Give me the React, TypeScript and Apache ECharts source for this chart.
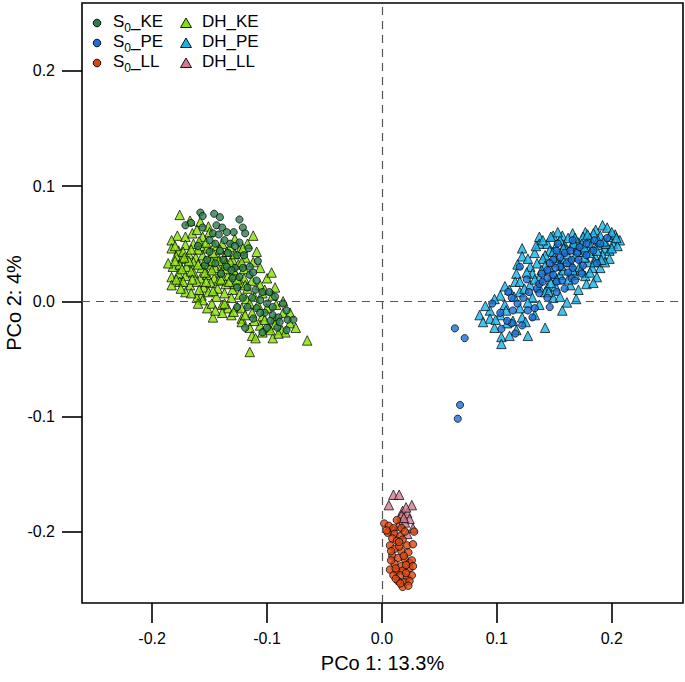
import React, { useEffect, useRef } from "react";
import * as echarts from "echarts";

type P = [number, number];

const xTicks = [-0.2, -0.1, 0.0, 0.1, 0.2];
const yTicks = [-0.2, -0.1, 0.0, 0.1, 0.2];
const xTitle = "PCo 1: 13.3%";
const yTitle = "PCo 2: 4%";

const S0_KE: P[] = [
  [-0.158,0.077],[-0.156,0.074],[-0.146,0.076],[-0.141,0.073],[-0.124,0.071],[-0.171,0.066],[-0.166,0.068],
  [-0.144,0.066],[-0.139,0.064],[-0.121,0.064],[-0.119,0.059],[-0.156,0.064],[-0.147,0.059],[-0.129,0.060],
  [-0.142,0.058],[-0.150,0.053],[-0.145,0.050],[-0.137,0.053],[-0.132,0.050],[-0.124,0.051],[-0.116,0.046],
  [-0.150,0.043],[-0.141,0.044],[-0.134,0.042],[-0.126,0.040],[-0.154,0.031],[-0.145,0.033],[-0.135,0.030],
  [-0.128,0.029],[-0.121,0.029],[-0.115,0.030],[-0.124,0.021],[-0.115,0.023],[-0.109,0.018],[-0.126,0.012],
  [-0.117,0.012],[-0.110,0.010],[-0.104,0.008],[-0.121,0.003],[-0.113,0.003],[-0.106,0.001],[-0.093,0.004],
  [-0.100,-0.002],[-0.126,-0.005],[-0.117,-0.005],[-0.109,-0.006],[-0.095,-0.005],[-0.102,-0.010],[-0.095,-0.012],
  [-0.083,-0.008],[-0.082,-0.016],[-0.077,-0.016],[-0.090,-0.014],[-0.119,-0.023],[-0.104,-0.027],[-0.100,-0.023],
  [-0.091,-0.023],[-0.083,-0.025],[-0.089,-0.018],[-0.097,-0.017],[-0.160,0.048],[-0.152,0.036],[-0.138,0.036],
  [-0.130,0.020],[-0.140,0.024],
  [-0.135,0.060],[-0.128,0.048],[-0.120,0.040],[-0.112,0.025],[-0.108,0.035],[-0.131,0.027],[-0.098,0.008],
  [-0.086,-0.002],[-0.112,-0.015],[-0.106,-0.010]
];

const DH_KE: P[] = [
  [-0.176,0.075],[-0.167,0.070],[-0.158,0.069],[-0.151,0.065],
  [-0.178,0.057],[-0.171,0.056],[-0.165,0.059],[-0.161,0.062],[-0.156,0.056],[-0.150,0.060],[-0.128,0.054],[-0.112,0.057],[-0.183,0.053],
  [-0.183,0.046],[-0.177,0.044],[-0.171,0.049],[-0.164,0.050],[-0.158,0.048],[-0.152,0.046],[-0.146,0.048],[-0.139,0.050],[-0.132,0.047],[-0.117,0.050],[-0.124,0.044],
  [-0.179,0.039],[-0.174,0.037],[-0.168,0.041],[-0.162,0.038],[-0.156,0.040],[-0.150,0.037],[-0.143,0.039],[-0.137,0.037],[-0.130,0.036],[-0.109,0.043],[-0.119,0.038],
  [-0.182,0.030],[-0.176,0.032],[-0.170,0.030],[-0.164,0.034],[-0.157,0.029],[-0.151,0.032],[-0.145,0.029],[-0.139,0.031],[-0.132,0.034],[-0.125,0.032],[-0.112,0.034],[-0.106,0.029],
  [-0.183,0.021],[-0.177,0.024],[-0.171,0.022],[-0.164,0.025],[-0.158,0.020],[-0.152,0.023],[-0.146,0.020],[-0.140,0.025],[-0.134,0.022],[-0.127,0.023],[-0.120,0.020],[-0.100,0.020],[-0.096,0.025],
  [-0.176,0.017],[-0.183,0.014],[-0.167,0.014],[-0.161,0.017],[-0.155,0.012],[-0.149,0.016],[-0.143,0.011],[-0.136,0.015],[-0.130,0.010],[-0.123,0.016],[-0.117,0.011],[-0.106,0.014],[-0.093,0.012],[-0.102,0.010],
  [-0.171,0.008],[-0.157,0.005],[-0.161,0.003],[-0.151,0.008],[-0.144,0.004],[-0.137,0.007],[-0.131,0.003],[-0.124,0.006],[-0.111,0.004],[-0.104,0.007],[-0.095,0.005],[-0.118,0.002],
  [-0.156,0.001],[-0.152,-0.006],[-0.148,-0.002],[-0.139,-0.003],[-0.134,-0.006],[-0.126,-0.005],[-0.122,-0.006],[-0.115,-0.002],[-0.100,-0.006],[-0.108,-0.003],[-0.092,-0.003],[-0.086,0.000],
  [-0.147,-0.014],[-0.139,-0.010],[-0.131,-0.012],[-0.122,-0.015],[-0.113,-0.010],[-0.104,-0.013],[-0.093,-0.015],[-0.086,-0.010],[-0.080,-0.010],
  [-0.122,-0.018],[-0.106,-0.021],[-0.099,-0.023],[-0.087,-0.025],[-0.115,-0.023],[-0.093,-0.020],[-0.080,-0.019],[-0.075,-0.023],
  [-0.113,-0.030],[-0.110,-0.032],[-0.095,-0.032],[-0.084,-0.027],[-0.097,-0.025],[-0.065,-0.034],[-0.104,-0.027],
  [-0.115,-0.044],
  [-0.186,0.033],[-0.174,0.028],[-0.168,0.035],[-0.160,0.045],[-0.154,0.025],[-0.148,0.035],[-0.142,0.018],
  [-0.135,0.028],[-0.128,0.015],[-0.120,0.028],[-0.113,0.018],
  [-0.180,0.048],[-0.173,0.043],[-0.166,0.045],[-0.159,0.052],[-0.153,0.051],[-0.147,0.042],[-0.141,0.045],[-0.135,0.043],[-0.128,0.041],[-0.121,0.046],
  [-0.180,0.035],[-0.172,0.038],[-0.166,0.026],[-0.160,0.032],[-0.154,0.035],[-0.148,0.027],[-0.142,0.035],[-0.136,0.033],[-0.129,0.027],[-0.122,0.034],
  [-0.179,0.019],[-0.173,0.017],[-0.165,0.019],[-0.159,0.010],[-0.153,0.017],[-0.147,0.009],[-0.140,0.019],[-0.133,0.017],[-0.126,0.019],[-0.119,0.014],
  [-0.175,0.011],[-0.166,0.007],[-0.160,-0.002],[-0.145,-0.008],[-0.137,-0.002],[-0.129,-0.009],[-0.119,-0.012],[-0.111,-0.017],[-0.102,-0.016],[-0.090,-0.028]
];

const S0_PE: P[] = [
  [0.0635,-0.0235],[0.072,-0.032],[0.068,-0.090],[0.066,-0.102],
  [0.096,-0.002],[0.120,0.030],[0.126,0.019],[0.110,0.008],[0.113,0.003],[0.114,-0.008],[0.118,-0.002],[0.123,0.003],
  [0.127,-0.008],[0.131,-0.014],[0.133,-0.006],[0.128,0.008],[0.135,0.011],[0.137,0.015],[0.140,0.017],[0.137,0.007],
  [0.146,-0.005],[0.144,0.003],[0.152,0.008],[0.113,-0.019],[0.103,-0.010],[0.109,-0.017],[0.122,-0.021],[0.144,0.020],
  [0.149,0.023],[0.152,0.017],[0.157,0.018],[0.159,0.011],[0.155,0.030],[0.161,0.033],[0.165,0.036],[0.166,0.029],
  [0.171,0.036],[0.175,0.031],[0.174,0.024],[0.165,0.020],[0.159,0.042],[0.164,0.044],[0.170,0.042],[0.155,0.038],
  [0.149,0.036],[0.172,0.047],[0.178,0.040],[0.162,0.025],[0.168,0.018],[0.151,0.029],[0.144,0.027],[0.146,0.033],
  [0.178,0.050],[0.184,0.044],[0.185,0.053],[0.190,0.050],[0.196,0.055],[0.187,0.033],[0.152,0.044],[0.139,0.024],
  [0.153,0.050],[0.166,0.053],[0.104,-0.024],[0.116,-0.028]
];

const DH_PE: P[] = [
  [0.192,0.066],[0.196,0.064],[0.186,0.062],[0.177,0.060],[0.166,0.059],[0.157,0.057],[0.149,0.057],[0.137,0.056],[0.175,0.056],[0.184,0.059],[0.190,0.057],[0.198,0.056],[0.203,0.058],[0.207,0.053],[0.181,0.055],[0.171,0.051],
  [0.137,0.050],[0.144,0.050],[0.151,0.047],[0.159,0.049],[0.165,0.048],[0.174,0.050],[0.181,0.047],[0.188,0.049],[0.194,0.046],[0.201,0.050],[0.205,0.048],[0.155,0.053],[0.198,0.044],[0.146,0.044],[0.162,0.055],
  [0.122,0.046],[0.122,0.039],[0.133,0.042],[0.142,0.040],[0.149,0.043],[0.157,0.037],[0.168,0.039],[0.175,0.043],[0.181,0.042],[0.186,0.038],[0.192,0.040],[0.198,0.037],[0.140,0.037],[0.161,0.041],
  [0.135,0.033],[0.142,0.031],[0.153,0.034],[0.164,0.034],[0.172,0.030],[0.179,0.034],[0.190,0.029],[0.194,0.034],[0.183,0.029],[0.129,0.030],[0.146,0.029],
  [0.117,0.024],[0.131,0.024],[0.137,0.020],[0.148,0.022],[0.155,0.023],[0.168,0.023],[0.177,0.022],[0.187,0.021],[0.181,0.025],[0.126,0.025],
  [0.116,0.017],[0.120,0.017],[0.144,0.012],[0.151,0.013],[0.164,0.014],[0.178,0.015],[0.184,0.016],[0.129,0.014],[0.107,0.013],[0.111,0.010],[0.137,0.012],[0.171,0.010],
  [0.149,0.003],[0.169,0.002],[0.103,0.005],[0.120,0.008],[0.131,0.003],[0.155,0.004],[0.098,0.002],[0.142,0.008],
  [0.161,-0.001],[0.157,-0.008],[0.094,-0.008],[0.107,-0.003],[0.120,-0.006],[0.137,-0.003],[0.127,-0.001],[0.090,-0.004],
  [0.094,-0.015],[0.114,-0.017],[0.122,-0.014],[0.103,-0.012],[0.133,-0.012],[0.085,-0.012],
  [0.088,-0.018],[0.098,-0.023],[0.109,-0.019],[0.142,-0.023],[0.117,-0.025],
  [0.104,-0.031],[0.104,-0.037],[0.127,-0.030],[0.111,-0.030],
  [0.160,0.045],[0.170,0.045],[0.180,0.051],[0.188,0.053],[0.176,0.038],[0.166,0.027],[0.158,0.027],[0.152,0.019],[0.195,0.050],[0.200,0.060],
  [0.140,0.053],[0.147,0.056],[0.153,0.060],[0.168,0.055],[0.179,0.058],[0.187,0.044],[0.193,0.052],[0.200,0.046],[0.204,0.055],[0.176,0.047],
  [0.167,0.050],[0.158,0.046],[0.150,0.038],[0.139,0.027],[0.133,0.019],[0.124,0.011],[0.115,0.004],[0.108,-0.008],[0.099,-0.016],[0.147,0.016],
  [0.156,0.031],[0.173,0.027],[0.185,0.034],[0.191,0.036],[0.162,0.019],[0.118,0.032],[0.127,0.037],[0.134,0.048],[0.145,0.008],[0.125,-0.018]
];

const S0_LL: P[] = [
  [0.002,-0.193],[0.006,-0.195],[0.010,-0.197],[0.017,-0.197],[0.005,-0.201],[0.011,-0.202],[0.016,-0.204],[0.009,-0.206],
  [0.013,-0.208],[0.018,-0.207],[0.022,-0.212],[0.027,-0.211],[0.007,-0.212],[0.011,-0.215],[0.017,-0.217],[0.023,-0.218],
  [0.009,-0.221],[0.014,-0.223],[0.020,-0.224],[0.024,-0.227],[0.011,-0.228],[0.017,-0.230],[0.007,-0.233],[0.013,-0.235],
  [0.018,-0.234],[0.024,-0.232],[0.010,-0.238],[0.016,-0.238],[0.022,-0.240],[0.026,-0.238],[0.014,-0.243],[0.020,-0.244],
  [0.024,-0.243],[0.018,-0.248],[0.023,-0.247],[0.013,-0.190],[0.020,-0.200],[0.015,-0.213],[0.021,-0.229],[0.012,-0.241],
  [0.026,-0.225],[0.008,-0.225],[0.028,-0.200],
  [0.004,-0.199],[0.015,-0.209],[0.008,-0.217],[0.019,-0.221],[0.012,-0.232],[0.021,-0.236],[0.016,-0.245],[0.027,-0.230]
];

const DH_LL: P[] = [
  [0.010,-0.168],[0.015,-0.168],[0.006,-0.177],[0.026,-0.177],[0.018,-0.182],[0.022,-0.184],[0.017,-0.186],[0.024,-0.189],
  [0.016,-0.192],[0.020,-0.192],[0.014,-0.195],[0.027,-0.197],[0.022,-0.202],[0.010,-0.199],[0.021,-0.179],[0.019,-0.188]
];

const COLORS = {
  s0ke: "#2D7D4F",
  dhke: "#84E000",
  s0pe: "#1C6ED6",
  dhpe: "#14B4EA",
  s0ll: "#D8460E",
  dhll: "#D27A8E",
};

const FONT = "'Liberation Sans', Arial, Helvetica, sans-serif";

export default function App() {
  const ref = useRef<HTMLDivElement>(null);
  useEffect(() => {
    if (!ref.current) return;
    const chart = echarts.init(ref.current, undefined, { renderer: "svg" });
    const markerStyle = (c: string) => ({ color: c, borderColor: "#000", borderWidth: 0.9 });
    const mk = (name: string, data: P[], symbol: string, size: number, c: string) => ({
      name,
      type: "scatter",
      data,
      symbol,
      symbolSize: size,
      itemStyle: markerStyle(c),
      z: 3,
      emphasis: { disabled: true },
    });
    const legendItems = [
      { label: ["S", "0", "_KE"], sym: "circle", c: COLORS.s0ke, col: 0, row: 0 },
      { label: ["S", "0", "_PE"], sym: "circle", c: COLORS.s0pe, col: 0, row: 1 },
      { label: ["S", "0", "_LL"], sym: "circle", c: COLORS.s0ll, col: 0, row: 2 },
      { label: ["DH_KE"], sym: "tri", c: COLORS.dhke, col: 1, row: 0 },
      { label: ["DH_PE"], sym: "tri", c: COLORS.dhpe, col: 1, row: 1 },
      { label: ["DH_LL"], sym: "tri", c: COLORS.dhll, col: 1, row: 2 },
    ];
    const graphic: any[] = [];
    legendItems.forEach((it) => {
      const mx = it.col === 0 ? 97 : 186;
      const tx = it.col === 0 ? 113 : 202;
      const cy = 23 + it.row * 20;
      if (it.sym === "circle") {
        graphic.push({ type: "circle", shape: { cx: mx, cy, r: 3.8 }, style: { fill: it.c, stroke: "#000", lineWidth: 0.9 } });
      } else {
        graphic.push({
          type: "polygon",
          shape: { points: [[mx, cy - 5], [mx - 5.5, cy + 4.5], [mx + 5.5, cy + 4.5]] },
          style: { fill: it.c, stroke: "#000", lineWidth: 0.9 },
        });
      }
      const text = it.label.length === 3 ? `{m|${it.label[0]}}{s|${it.label[1]}}{m|${it.label[2]}}` : `{m|${it.label[0]}}`;
      graphic.push({
        type: "text",
        x: tx,
        y: cy + 7,
        style: {
          text,
          fill: "#000",
          font: `17px ${FONT}`,
          verticalAlign: "bottom",
          align: "left",
          rich: {
            m: { fontSize: 17, fontFamily: FONT, lineHeight: 20, verticalAlign: "bottom", fill: "#000" },
            s: { fontSize: 12, fontFamily: FONT, lineHeight: 20, verticalAlign: "bottom", fill: "#000", padding: [0, 0, -4, 0] },
          },
        },
      });
    });

    chart.setOption({
      animation: false,
      backgroundColor: "#fff",
      grid: {
        left: 82, right: 2, top: 3, bottom: 79,
        containLabel: false, outerBoundsMode: "none",
        show: true, borderColor: "#000", borderWidth: 1.6, backgroundColor: "transparent",
      },
      xAxis: {
        type: "value",
        min: -0.261,
        max: 0.262,
        name: xTitle,
        nameLocation: "middle",
        nameGap: 50,
        nameMoveOverlap: false,
        nameTextStyle: { fontSize: 20, fontFamily: FONT, color: "#000" },
        axisLine: { show: false, onZero: false },
        axisTick: { show: true, length: 20, lineStyle: { color: "#000", width: 1.6 }, customValues: xTicks },
        axisLabel: { margin: 27, fontSize: 16, fontFamily: FONT, color: "#000", customValues: xTicks, formatter: (v: number) => v.toFixed(1) },
        splitLine: { show: false },
      },
      yAxis: {
        type: "value",
        min: -0.262,
        max: 0.259,
        name: yTitle,
        nameLocation: "middle",
        nameGap: 58,
        nameMoveOverlap: false,
        nameTextStyle: { fontSize: 20, fontFamily: FONT, color: "#000" },
        axisLine: { show: false, onZero: false },
        axisTick: { show: true, length: 20, lineStyle: { color: "#000", width: 1.6 }, customValues: yTicks },
        axisLabel: { margin: 27, fontSize: 16, fontFamily: FONT, color: "#000", customValues: yTicks, formatter: (v: number) => v.toFixed(1) },
        splitLine: { show: false },
      },
      series: [
        {
          type: "scatter",
          data: [],
          z: 1,
          silent: true,
          markLine: {
            silent: true,
            symbol: ["none", "none"],
            label: { show: false },
            lineStyle: { color: "#555", width: 1.2, type: [8, 6] },
            data: [{ xAxis: 0 }, { yAxis: 0 }],
          },
        },
        mk("DH_KE", DH_KE, "triangle", 9.5, COLORS.dhke),
        mk("S0_KE", S0_KE, "circle", 7.2, COLORS.s0ke),
        mk("DH_PE", DH_PE, "triangle", 9.5, COLORS.dhpe),
        mk("S0_PE", S0_PE, "circle", 7.2, COLORS.s0pe),
        mk("DH_LL", DH_LL, "triangle", 9.5, COLORS.dhll),
        mk("S0_LL", S0_LL, "circle", 7.5, COLORS.s0ll),
      ],
      graphic,
    });
    return () => chart.dispose();
  }, []);
  return <div ref={ref} style={{ position: "fixed", left: 0, top: 0, width: 685, height: 682 }} />;
}
